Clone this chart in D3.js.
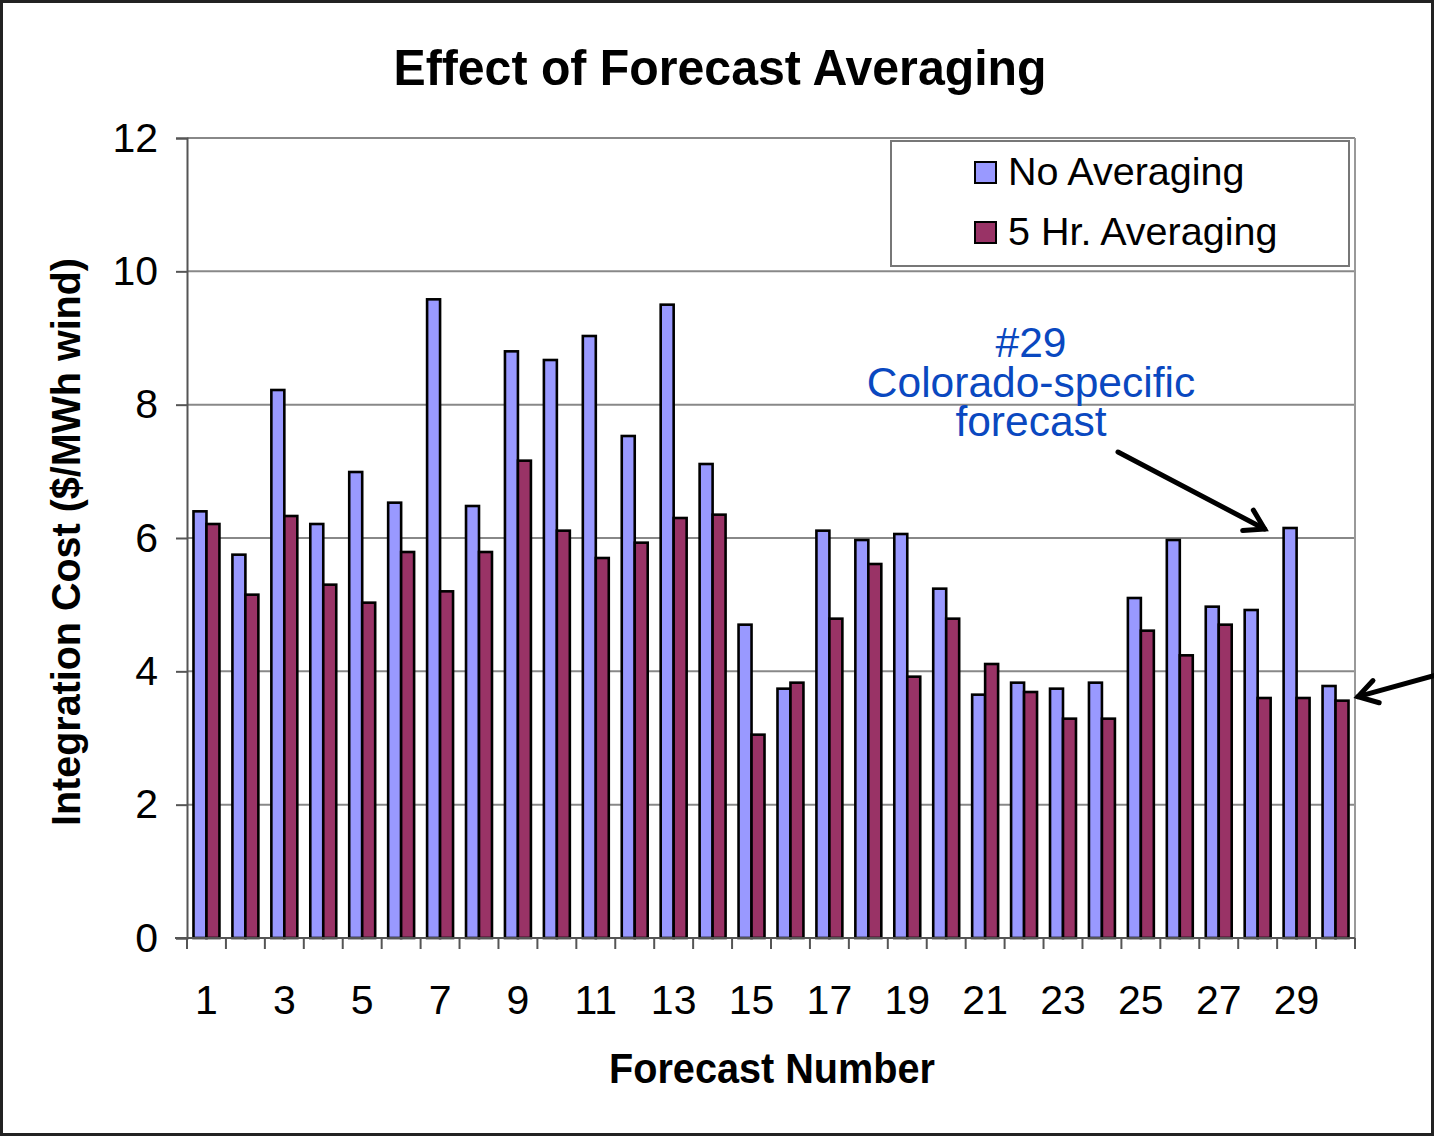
<!DOCTYPE html>
<html>
<head>
<meta charset="utf-8">
<script src="https://cdn.jsdelivr.net/npm/d3@7"></script>
<style>
  html, body { margin: 0; padding: 0; background: #fff; }
  svg { display: block; font-family: "Liberation Sans", Arial, sans-serif; }
</style>
</head>
<body>
<div id="chart"></div>
<script>
// forecast numbers and the two series
const forecasts = [1, 2, 3, 4, 5, 6, 7, 8, 9, 10, 11, 12, 13, 14, 15,
                   16, 17, 18, 19, 20, 21, 22, 23, 24, 25, 26, 27, 28, 29, 30];
const noAveraging = [6.4, 5.75, 8.22, 6.21, 6.99, 6.53, 9.58, 6.48, 8.8, 8.67,
                     9.03, 7.53, 9.5, 7.11, 4.7, 3.74, 6.11, 5.97, 6.06, 5.24,
                     3.65, 3.83, 3.74, 3.83, 5.1, 5.97, 4.97, 4.92, 6.15, 3.78];
const fiveHrAveraging = [6.21, 5.15, 6.33, 5.3, 5.03, 5.79, 5.2, 5.79, 7.16, 6.11,
                         5.7, 5.93, 6.3, 6.35, 3.05, 3.83, 4.79, 5.61, 3.92, 4.79,
                         4.11, 3.69, 3.29, 3.29, 4.61, 4.24, 4.7, 3.6, 3.6, 3.56];
const seriesNames = ['No Averaging', '5 Hr. Averaging'];
const seriesColors = ['#9999ff', '#993366'];
const yTicks = [0, 2, 4, 6, 8, 10, 12];
const xTickLabels = [1, 3, 5, 7, 9, 11, 13, 15, 17, 19, 21, 23, 25, 27, 29];

const W = 1434, H = 1136;
const margin = { top: 138, right: 79, bottom: 198, left: 187 };
const width = W - margin.left - margin.right;
const height = H - margin.top - margin.bottom;

const svg = d3.select('#chart').append('svg')
    .attr('width', W)
    .attr('height', H);

// outer frame
svg.append('rect')
    .attr('x', 1.5).attr('y', 1.5)
    .attr('width', W - 3).attr('height', H - 3)
    .attr('fill', '#fff')
    .attr('stroke', '#222')
    .attr('stroke-width', 3);

const plot = svg.append('g')
    .attr('transform', `translate(${margin.left},${margin.top})`);

// scales
const x = d3.scaleBand().domain(forecasts).range([0, width]).padding(0);
const xs = d3.scaleBand().domain(seriesNames).range([0, x.bandwidth()])
    .paddingInner(0).paddingOuter(0.5);
const y = d3.scaleLinear().domain([0, 12]).range([height, 0]);

// gridlines + plot border
plot.append('g')
    .selectAll('line')
    .data(yTicks.filter(d => d > 0))
    .enter().append('line')
    .attr('x1', 0).attr('x2', width)
    .attr('y1', d => y(d)).attr('y2', d => y(d))
    .attr('stroke', '#888')
    .attr('stroke-width', 2);
plot.append('line')
    .attr('x1', width).attr('x2', width)
    .attr('y1', 0).attr('y2', height)
    .attr('stroke', '#999')
    .attr('stroke-width', 2);

// bars
const rows = forecasts.map((f, i) => ({ f, vals: [noAveraging[i], fiveHrAveraging[i]] }));
const groups = plot.selectAll('g.grp')
    .data(rows)
    .enter().append('g')
    .classed('grp', true)
    .attr('transform', d => `translate(${x(d.f)},0)`);

groups.selectAll('rect')
    .data(d => d.vals.map((v, k) => ({ name: seriesNames[k], v, k })))
    .enter().append('rect')
    .attr('x', d => xs(d.name))
    .attr('y', d => y(d.v))
    .attr('width', xs.bandwidth())
    .attr('height', d => height - y(d.v))
    .attr('fill', d => seriesColors[d.k])
    .attr('stroke', '#000')
    .attr('stroke-width', 2.6);

// y axis
const yAxis = plot.append('g')
    .call(d3.axisLeft(y).tickValues(yTicks).tickSize(11).tickPadding(18).tickFormat(d3.format('d')));
yAxis.select('.domain').attr('stroke', '#555').attr('stroke-width', 2);
yAxis.selectAll('.tick line').attr('stroke', '#555').attr('stroke-width', 2);
yAxis.selectAll('.tick text')
    .style('font-size', '41px')
    .attr('fill', '#000')
    .attr('font-family', '"Liberation Sans", Arial, sans-serif');

// x axis: ticks at category boundaries, labels on odd numbers
const xAxisG = plot.append('g').attr('transform', `translate(0,${height})`);
xAxisG.append('line')
    .attr('x1', -12).attr('x2', width)
    .attr('stroke', '#555').attr('stroke-width', 2);
xAxisG.selectAll('line.tk')
    .data(forecasts.concat(['end']))
    .enter().append('line')
    .classed('tk', true)
    .attr('x1', d => d === 'end' ? width : x(d))
    .attr('x2', d => d === 'end' ? width : x(d))
    .attr('y1', 0).attr('y2', 11)
    .attr('stroke', '#555').attr('stroke-width', 2);
xAxisG.selectAll('text')
    .data(xTickLabels)
    .enter().append('text')
    .attr('x', d => x(d) + x.bandwidth() / 2)
    .attr('y', 76)
    .attr('text-anchor', 'middle')
    .style('font-size', '41px')
    .text(d => d);

// title & axis labels
svg.append('text')
    .attr('x', 720).attr('y', 85)
    .attr('text-anchor', 'middle')
    .attr('textLength', 653).attr('lengthAdjust', 'spacingAndGlyphs')
    .style('font-size', '50px').style('font-weight', 'bold')
    .text('Effect of Forecast Averaging');

svg.append('text')
    .attr('x', 772).attr('y', 1083)
    .attr('text-anchor', 'middle')
    .attr('textLength', 326).attr('lengthAdjust', 'spacingAndGlyphs')
    .style('font-size', '42px').style('font-weight', 'bold')
    .text('Forecast Number');

svg.append('text')
    .attr('transform', 'translate(80,542) rotate(-90)')
    .attr('text-anchor', 'middle')
    .attr('textLength', 568).attr('lengthAdjust', 'spacingAndGlyphs')
    .style('font-size', '40px').style('font-weight', 'bold')
    .text('Integration Cost ($/MWh wind)');

// legend
const legend = svg.append('g').attr('transform', 'translate(891,141)');
legend.append('rect')
    .attr('width', 458).attr('height', 125)
    .attr('fill', '#fff')
    .attr('stroke', '#777')
    .attr('stroke-width', 2);
seriesNames.forEach((name, i) => {
    const row = legend.append('g').attr('transform', `translate(84,${21 + i * 60})`);
    row.append('rect')
        .attr('width', 21).attr('height', 21)
        .attr('fill', seriesColors[i])
        .attr('stroke', '#000').attr('stroke-width', 2);
    row.append('text')
        .attr('x', 33).attr('y', 23)
        .style('font-size', '39.5px')
        .text(name);
});

// annotation for #29
const blue = '#0a48c0';
const note = svg.append('text')
    .attr('text-anchor', 'middle')
    .attr('fill', blue)
    .style('font-size', '42.5px');
['#29', 'Colorado-specific', 'forecast'].forEach((t, i) => {
    note.append('tspan').attr('x', 1031).attr('y', 357 + i * 39.5).text(t);
});

function arrow(x1, y1, x2, y2) {
    const a = Math.atan2(y2 - y1, x2 - x1);
    const len = 22, spread = 0.55;
    const p1 = [x2 - len * Math.cos(a - spread), y2 - len * Math.sin(a - spread)];
    const p2 = [x2 - len * Math.cos(a + spread), y2 - len * Math.sin(a + spread)];
    const g = svg.append('g')
        .attr('stroke', '#000').attr('stroke-width', 5)
        .attr('stroke-linecap', 'round').attr('fill', 'none');
    g.append('line').attr('x1', x1).attr('y1', y1).attr('x2', x2).attr('y2', y2);
    g.append('path').attr('d', `M${p1[0]},${p1[1]} L${x2},${y2} L${p2[0]},${p2[1]}`);
}

// arrow pointing at the #29 no-averaging bar
const tip1x = margin.left + x(29) + xs(seriesNames[0]) - 19;
const tip1y = margin.top + y(noAveraging[28]) + 1;
arrow(1118, 452, tip1x, tip1y);

// arrow from the right edge to the last bar pair
const tip2x = margin.left + width + 3;
const tip2y = margin.top + y(fiveHrAveraging[29]) - 4;
arrow(W + 2, 675, tip2x, tip2y);
</script>
</body>
</html>
